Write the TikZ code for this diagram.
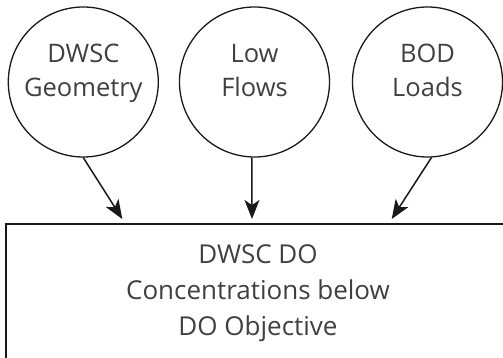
\documentclass[tikz,border=0pt]{standalone}
\usepackage{fontspec}
\setmainfont{Open Sans}
\usetikzlibrary{arrows.meta}

\begin{document}
\begin{tikzpicture}[x=1pt,y=-1pt]
\tikzstyle factor=[draw=black!90,line width=1.3pt,circle,minimum size=150pt,inner sep=0pt,align=center,text=black!75,font=\fontsize{25.5}{34}\selectfont,text height=54pt,text depth=24pt]
\tikzstyle outcome=[draw=black!90,line width=1.4pt,rectangle,anchor=north,minimum width=504pt,minimum height=150pt,inner sep=0pt,align=center,text=black!75,font=\fontsize{26}{36}\selectfont,text height=100pt,text depth=26.6pt]
\tikzstyle link=[draw=black!90,line width=1.5pt,-{Stealth[length=19pt,width=15pt,inset=5pt]}]
\useasboundingbox (0,0) rectangle (503,358);
\clip (0,0) rectangle (503,358);
% inputs
\node[factor] (geometry) at (83.3,82) {DWSC\\Geometry};
\node[factor] (flows) at (254.5,82) {Low\\Flows};
\node[factor] (loads) at (427.5,82) {BOD\\Loads};
% result box
\node[outcome] (impact) at (258,223.3) {DWSC DO\\Concentrations below\\DO Objective};
%\draw (6,223.3) rectangle (510,380);
\coordinate (geomtip) at (122.3,219);
\coordinate (flowtip) at (252,219);
\coordinate (loadtip) at (391.7,219);
\draw[link] (geometry.-90) -- (geomtip);
\draw[link] (flows.-92) -- (flowtip);
\draw[link] (loads.-87) -- (loadtip);
\end{tikzpicture}
\end{document}
